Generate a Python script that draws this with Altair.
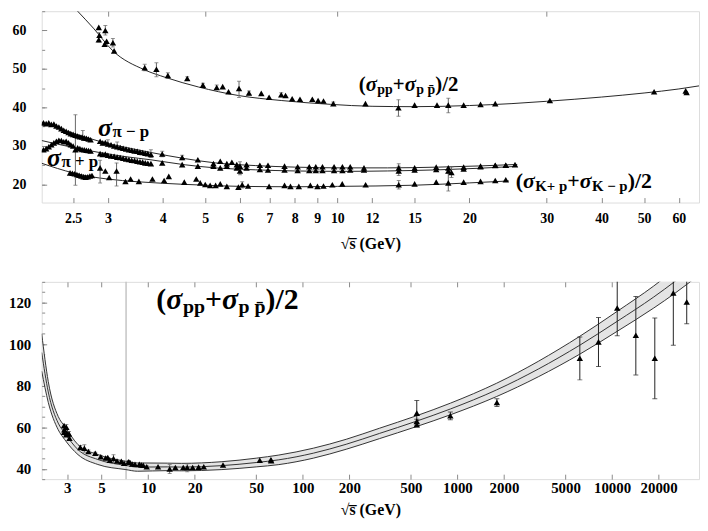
import altair as alt
import pandas as pd

FONT = "Liberation Serif"

# ---------------- top panel data ----------------
pp_x = [2.86, 2.96, 2.87, 2.86, 2.98, 2.95, 3.08, 3.10, 3.64, 3.87, 4.11, 4.55, 4.94, 5.31, 5.48, 5.65, 5.97, 6.29,
        6.71, 6.99, 7.45, 7.62, 7.89, 8.22, 8.77, 9.04, 9.30, 9.79, 11.59, 13.78, 15.0, 16.87, 17.9, 19.4, 21.2,
        22.9, 30.5, 52.7, 62.2, 62.5]
pp_y = [60.8, 60.0, 58.75, 57.6, 57.2, 56.4, 56.8, 54.7, 50.3, 49.9, 48.3, 47.5, 45.8, 45.2, 45.4, 44.1, 44.9, 43.75,
        43.65, 42.65, 43.3, 43.1, 42.25, 42.15, 42.15, 41.8, 41.65, 41.0, 41.0, 39.9, 40.6, 40.6, 40.6, 40.6, 40.8,
        41.0, 41.8, 44.1, 44.3, 43.9]

pim_x = [2.14, 2.17, 2.20, 2.23, 2.26, 2.29, 2.32, 2.35, 2.38, 2.41, 2.44, 2.47, 2.50, 2.53, 2.56, 2.59, 2.62, 2.65,
         2.68, 2.71, 2.74,
         2.88, 2.92, 2.96, 3.0, 3.05, 3.1, 3.15, 3.2, 3.25, 3.3, 3.35, 3.4, 3.45, 3.5, 3.55, 3.6, 3.65, 3.7, 3.76,
         3.99, 4.43, 4.81, 5.22, 5.41, 5.60, 5.75, 5.90, 6.0, 6.21, 6.66, 6.95, 7.58, 8.12, 8.63, 8.93, 9.25, 9.83,
         10.27, 10.7, 11.5, 13.8, 15.0, 16.8, 17.9, 19.4, 21.2, 22.9, 24.2, 25.4]
pim_y = [36.0, 35.8, 36.0, 35.6, 35.7, 35.2, 34.9, 34.5, 34.1, 33.8, 33.5, 33.2, 33.0, 32.8, 32.6, 32.4, 32.3, 32.1,
         32.0, 31.8, 31.6,
         31.2, 30.8, 30.9, 30.5, 30.3, 30.0, 29.8, 29.6, 29.4, 29.2, 29.0, 28.9, 28.7, 28.6, 28.4, 28.3, 28.1, 28.0, 27.8,
         27.9, 27.0, 26.4, 25.4, 26.0, 25.4, 25.75, 25.15, 24.75, 25.15, 25.0, 25.0, 24.75, 24.6, 24.6, 24.6, 24.6, 24.6,
         24.6, 24.6, 24.3, 24.3, 24.3, 24.5, 24.3, 24.5, 24.75, 25.0, 25.0, 25.15]

pip_x = [2.14, 2.17, 2.20, 2.23, 2.26, 2.29, 2.32, 2.35, 2.38, 2.41, 2.44, 2.47, 2.50, 2.53, 2.56, 2.59, 2.62, 2.65,
         2.68, 2.71, 2.74,
         2.88, 2.92, 2.96, 3.0, 3.05, 3.1, 3.15, 3.2, 3.25, 3.3, 3.35, 3.4, 3.45, 3.5, 3.55, 3.6, 3.65, 3.7, 3.76,
         3.99, 4.43, 4.81, 5.22, 5.41, 5.60, 5.90, 6.0, 6.21, 6.66, 6.95, 7.58, 8.12, 8.63, 8.93, 9.25, 9.83, 10.27,
         10.7, 11.5, 13.8, 15.0, 16.8, 17.9, 18.2, 19.4, 21.2, 22.9, 24.2]
pip_y = [29.0, 29.3, 29.8, 30.3, 30.8, 31.2, 31.5, 31.4, 31.1, 31.2, 30.8, 30.3, 30.0, 29.0, 29.5, 29.3, 29.1, 29.0,
         28.9, 28.8, 28.7,
         28.0, 27.8, 27.9, 27.6, 27.4, 27.3, 27.1, 27.0, 26.8, 26.6, 26.5, 26.3, 26.2, 26.0, 25.9, 25.8, 25.6, 25.5, 25.4,
         25.6, 25.15, 24.75, 24.75, 24.3, 24.75, 24.3, 23.5, 24.3, 23.9, 23.75, 23.75, 23.6, 23.6, 23.6, 23.6, 23.6, 23.6,
         23.75, 23.75, 23.5, 23.75, 23.9, 23.5, 23.1, 24.0, 24.6, 24.9, 25.0]

k_x = [2.46, 2.49, 2.52, 2.55, 2.58, 2.61, 2.64, 2.67, 2.70, 2.73, 2.76, 2.88, 2.96, 3.02, 3.14, 3.29, 3.38, 3.53,
       3.79, 4.03, 4.13, 4.48, 4.77, 4.87, 5.0, 5.13, 5.28, 5.41, 5.60, 5.95, 6.07, 6.26, 6.99, 7.58, 7.82, 8.17,
       8.68, 9.01, 9.30, 9.74, 10.26, 11.6, 13.8, 15.0, 16.8, 17.9, 19.4, 21.2, 22.9, 24.2]
k_y = [23.0, 22.9, 22.8, 22.6, 22.4, 22.2, 22.0, 21.9, 22.0, 22.2, 22.3, 24.3, 23.5, 21.8, 23.5, 20.75, 21.4, 20.8,
       21.4, 21.0, 22.1, 20.6, 21.4, 20.4, 20.0, 19.75, 19.75, 20.15, 19.5, 19.3, 19.9, 19.6, 19.5, 19.75, 19.5, 19.5,
       19.75, 19.5, 19.6, 19.9, 20.15, 19.9, 19.9, 20.15, 20.6, 20.4, 20.6, 20.8, 21.0, 21.2]

# error bars in the top panel (x, low, high)
eb_x = [2.86, 2.96, 3.08, 3.64, 3.87, 4.11, 4.55, 4.94, 5.31, 5.97, 6.29, 7.45, 9.79, 13.78, 17.9,
        2.63, 3.0, 3.15, 3.76, 3.99, 4.43, 6.0, 13.8,
        2.53, 6.0, 13.8, 18.2,
        2.88, 3.14, 6.07, 13.8, 17.9]
eb_lo = [57.0, 58.8, 55.7, 49.5, 48.0, 47.6, 47.0, 45.2, 44.6, 42.6, 43.2, 42.8, 40.6, 37.7, 38.6,
         31.5, 30.0, 29.3, 27.0, 27.2, 26.4, 23.9, 23.2,
         19.8, 22.5, 22.3, 21.8,
         20.4, 19.6, 19.1, 18.8, 18.3]
eb_hi = [59.5, 61.3, 57.9, 51.2, 51.6, 49.0, 48.0, 46.3, 45.8, 46.8, 44.3, 43.8, 41.4, 42.0, 42.4,
         34.0, 31.6, 31.0, 29.0, 28.6, 27.6, 25.9, 25.4,
         38.1, 24.5, 24.7, 24.5,
         26.3, 25.6, 20.7, 21.0, 22.9]

# fitted curves, top panel
ppc_x = [2.55, 2.78, 3.08, 3.64, 4.06, 4.83, 5.95, 7.45, 9.66, 12, 15, 20, 25, 30, 40, 50, 60, 66.7]
ppc_y = [65.2, 60.6, 54.7, 49.75, 47.8, 45.3, 43.1, 41.8, 40.8, 40.3, 40.2, 40.5, 41.0, 41.6, 42.7, 43.75, 44.8, 45.6]
pic_x = [2.12, 2.5, 2.87, 3.3, 3.76, 4.5, 5.27, 6.5, 8, 10.35, 13, 17, 21, 25.7]
pimc_y = [36.2, 33.3, 31.2, 29.6, 28.3, 26.7, 25.6, 24.9, 24.5, 24.3, 24.3, 24.5, 24.8, 25.2]
pipc_y = [31.4, 29.6, 28.3, 27.2, 26.4, 25.1, 24.3, 23.8, 23.5, 23.4, 23.5, 23.8, 24.2, 24.7]
kc_x = [2.12, 2.5, 2.75, 3, 3.5, 4, 5, 6, 8, 10, 15, 20, 24.6]
kc_y = [25.5, 23.0, 22.0, 21.4, 20.7, 20.3, 19.8, 19.5, 19.4, 19.5, 19.8, 20.4, 20.9]

# ---------------- bottom panel data ----------------
hi_x = [546, 546, 546, 900, 1800, 6190, 8170, 10800, 14250, 18900, 24900, 30400]
hi_y = [66.8, 62.8, 61.2, 65.5, 71.9, 93.2, 101.1, 117.4, 104.3, 93.2, 124.6, 120.3]
hi_lo = [61.0, 61.8, 60.2, 63.6, 70.0, 82.8, 89.2, 104.0, 85.2, 73.7, 99.5, 109.8]
hi_hi = [72.9, 63.8, 62.2, 67.3, 73.7, 103.5, 112.8, 130.8, 123.0, 112.6, 150.0, 130.8]

band_x = [2.05, 2.26, 2.62, 2.89, 3.52, 4.73, 7.18, 8.54, 13.4, 16.4, 30, 50, 70, 117, 191, 313, 538, 902, 1795,
          6190, 10800, 18600, 25500, 36500]
band_up = [105, 82, 65.2, 60.4, 51.6, 46.85, 43.6, 42.8, 42.7, 42.6, 43.4, 45.1, 46.6, 49.9, 54.2, 59.5, 65.4, 71.6,
           81.2, 103.8, 115.8, 128.0, 135.9, 145.3]
band_mid = [96, 77, 62.0, 57.2, 49.2, 44.45, 41.6, 40.8, 40.9, 40.8, 41.5, 43.0, 44.3, 47.5, 51.8, 57.0, 62.8, 68.8,
            78.0, 99.5, 111.0, 122.7, 130.2, 139.3]
band_lo = [87, 72, 58.8, 54.0, 46.8, 42.05, 39.6, 38.8, 39.1, 39.0, 39.6, 40.9, 42.0, 45.1, 49.4, 54.5, 60.2, 66.0,
           74.8, 95.2, 106.2, 117.4, 124.5, 133.3]
vline_x = [7.2]

# ticks
top_xticks = [2.5, 3, 4, 5, 6, 7, 8, 9, 10, 12, 15, 20, 30, 40, 50, 60]
top_xticks_up = [3, 5, 10, 30]
top_yticks = [20, 30, 40, 50, 60]
top_yminor = [20, 25, 30, 35, 40, 45, 50, 55, 60, 65]
bot_xticks = [3, 5, 10, 20, 50, 100, 200, 500, 1000, 2000, 5000, 10000, 20000]
bot_yticks = [40, 60, 80, 100, 120]
bot_yminor = [35, 40, 45, 50, 55, 60, 65, 70, 75, 80, 85, 90, 95, 100, 105, 110, 115, 120, 125, 130]

xtitle = "\u221as\u0305 (GeV)"

# label anchors (data coordinates) and text pieces
lab_pp_top = (11.19, 44.3)
lab_pim = (2.85, 32.6)
lab_pip = (2.18, 24.8)
lab_k = (25.5, 18.95)
lab_pp_bot = (11.3, 116.8)
pieces_pp = [("(", "m"), ("\u03c3", "i"), ("pp", "s"), ("+", "m"), ("\u03c3", "i"), ("p p\u0304", "s"), (")/2", "m")]
pieces_pim = [("\u03c3", "i"), ("\u03c0 \u2212 p", "s")]
pieces_pip = [("\u03c3", "i"), ("\u03c0 + p", "s")]
pieces_k = [("(", "m"), ("\u03c3", "i"), ("K+ p", "s"), ("+", "m"), ("\u03c3", "i"), ("K \u2212 p", "s"), (")/2", "m")]

W_EM = {"(": 0.333, ")": 0.333, "/": 0.278, "2": 0.5, "+": 0.570, "\u2212": 0.570, "p": 0.556, "K": 0.778,
        " ": 0.25, "\u03c0": 0.55, "\u03c3": 0.56, "\u0304": 0.0}


def twidth(s, size):
    return sum(W_EM.get(c, 0.55) for c in s) * size


GRAY = "#8a8a8a"
LINE = "#262626"


def make_scales(xdom, ydom):
    return (alt.Scale(type="log", domain=xdom, nice=False),
            alt.Scale(domain=ydom, nice=False, zero=False))


def label_layers(anchor, pieces, main, sub, sub_dy, xs, ys):
    d = pd.DataFrame({"x": [anchor[0]], "y": [anchor[1]]})
    out = []
    dx = 0.0
    for txt, role in pieces:
        size = sub if role == "s" else main
        out.append(alt.Chart(d).mark_text(
            text=txt, font=FONT, fontSize=size, fontWeight="bold",
            fontStyle="italic" if role == "i" else "normal",
            align="left", baseline="alphabetic", dx=dx, dy=sub_dy if role == "s" else 0,
            color="black").encode(
            x=alt.X("x:Q", scale=xs, axis=None), y=alt.Y("y:Q", scale=ys, axis=None)))
        dx += twidth(txt, size)
    return out


def axis_layers(xs, ys, xticks, xticks_up, yticks, yminor, lab_pad_x, lab_pad_y, title_pad, lab_size):
    d = pd.DataFrame({"x": [xticks[0]], "y": [yticks[0]]})
    common = dict(domain=False, grid=False, tickColor=GRAY, labelFont=FONT, labelFontSize=lab_size,
                  labelFontWeight="bold", labelColor="black")
    a = alt.Chart(d).mark_point(opacity=0).encode(
        x=alt.X("x:Q", scale=xs, axis=alt.Axis(
            orient="bottom", values=xticks, format="~g", tickSize=5, offset=-5, labelPadding=lab_pad_x,
            labelFlush=False, labelOverlap=False, title=xtitle, titleFont=FONT, titleFontSize=16,
            titleFontWeight="bold", titleColor="black", titlePadding=title_pad, **common)),
        y=alt.Y("y:Q", scale=ys, axis=alt.Axis(
            orient="left", values=yticks, format="d", tickSize=5, offset=-5, labelPadding=lab_pad_y,
            title=None, labelFlush=False, **common)))
    b = alt.Chart(d).mark_point(opacity=0).encode(
        x=alt.X("x:Q", scale=xs, axis=alt.Axis(
            orient="top", values=xticks_up, labels=False, tickSize=5, offset=-5, title=None,
            domain=False, grid=False, tickColor=GRAY)),
        y=alt.Y("y:Q", scale=ys, axis=alt.Axis(
            orient="left", values=yminor, labels=False, tickSize=3, offset=-3, title=None,
            domain=False, grid=False, tickColor=GRAY)))
    return [a, b]


def err_layers(df, xs, ys, color, cap):
    rule = alt.Chart(df).mark_rule(color=color, strokeWidth=1, clip=True).encode(
        x=alt.X("x:Q", scale=xs, axis=None), y=alt.Y("lo:Q", scale=ys, axis=None), y2="hi:Q")
    c1 = alt.Chart(df).mark_tick(orient="horizontal", size=cap, thickness=1, color=color, clip=True).encode(
        x=alt.X("x:Q", scale=xs, axis=None), y=alt.Y("lo:Q", scale=ys, axis=None))
    c2 = alt.Chart(df).mark_tick(orient="horizontal", size=cap, thickness=1, color=color, clip=True).encode(
        x=alt.X("x:Q", scale=xs, axis=None), y=alt.Y("hi:Q", scale=ys, axis=None))
    return [rule, c1, c2]


def line(x, y, xs, ys, color=LINE, width=1.0):
    d = pd.DataFrame({"x": x, "y": y})
    return alt.Chart(d).mark_line(color=color, strokeWidth=width, clip=True, interpolate="monotone").encode(
        x=alt.X("x:Q", scale=xs, axis=None), y=alt.Y("y:Q", scale=ys, axis=None))


def points(x, y, xs, ys):
    d = pd.DataFrame({"x": x, "y": y})
    return alt.Chart(d).mark_point(shape="triangle-up", filled=True, size=42, color="black", opacity=1,
                                   clip=True).encode(
        x=alt.X("x:Q", scale=xs, axis=None), y=alt.Y("y:Q", scale=ys, axis=None))


# ---------------- top panel ----------------
txs, tys = make_scales([2.12, 66.7], [15.3, 65])
top_err = pd.DataFrame({"x": eb_x, "lo": eb_lo, "hi": eb_hi})
top_layers = axis_layers(txs, tys, top_xticks, top_xticks_up, top_yticks, top_yminor, 9, 16, 10, 14)
top_layers += [line(ppc_x, ppc_y, txs, tys), line(pic_x, pimc_y, txs, tys), line(pic_x, pipc_y, txs, tys),
               line(kc_x, kc_y, txs, tys)]
top_layers += err_layers(top_err, txs, tys, "#666666", 4)
top_layers += [points(pp_x, pp_y, txs, tys), points(pim_x, pim_y, txs, tys), points(pip_x, pip_y, txs, tys),
               points(k_x, k_y, txs, tys)]
top_layers += label_layers(lab_pp_top, pieces_pp, 21, 14, 3, txs, tys)
top_layers += label_layers(lab_pim, pieces_pim, 26, 17, 1, txs, tys)
top_layers += label_layers(lab_pip, pieces_pip, 26, 17, 1, txs, tys)
top_layers += label_layers(lab_k, pieces_k, 22, 15, 3, txs, tys)
top = alt.layer(*top_layers).resolve_axis(x="independent", y="independent").properties(width=663, height=193)

# ---------------- bottom panel ----------------
bxs, bys = make_scales([2.05, 36500], [35, 130])
band_df = pd.DataFrame({"x": band_x, "lo": band_lo, "hi": band_up})
band = alt.Chart(band_df).mark_area(color="#e4e4e4", opacity=1, clip=True, interpolate="monotone").encode(
    x=alt.X("x:Q", scale=bxs, axis=None), y=alt.Y("lo:Q", scale=bys, axis=None), y2="hi:Q")
vline = alt.Chart(pd.DataFrame({"x": vline_x})).mark_rule(color="#c4c4c4", strokeWidth=1.5).encode(
    x=alt.X("x:Q", scale=bxs, axis=None))
hi_err = pd.DataFrame({"x": hi_x, "lo": hi_lo, "hi": hi_hi})
low_err = top_err.iloc[:15]
bot_layers = axis_layers(bxs, bys, bot_xticks, bot_xticks, bot_yticks, bot_yminor, 1, 11, 7, 15)
bot_layers += [band, vline, line(band_x, band_up, bxs, bys, "#333333"), line(band_x, band_mid, bxs, bys, "#333333"),
               line(band_x, band_lo, bxs, bys, "#333333")]
bot_layers += err_layers(hi_err, bxs, bys, "#222222", 5)
bot_layers += err_layers(low_err, bxs, bys, "#666666", 4)
bot_layers += [points(pp_x, pp_y, bxs, bys), points(hi_x, hi_y, bxs, bys)]
bot_layers += label_layers(lab_pp_bot, pieces_pp, 30, 20, 4, bxs, bys)
bottom = alt.layer(*bot_layers).resolve_axis(x="independent", y="independent").properties(width=663, height=199)

chart = alt.vconcat(top, bottom, spacing=28).properties(padding=0).configure_view(
    stroke=GRAY, strokeWidth=1).configure(background="white")
chart.save("out.html", embed_options={"renderer": "svg", "actions": False})
